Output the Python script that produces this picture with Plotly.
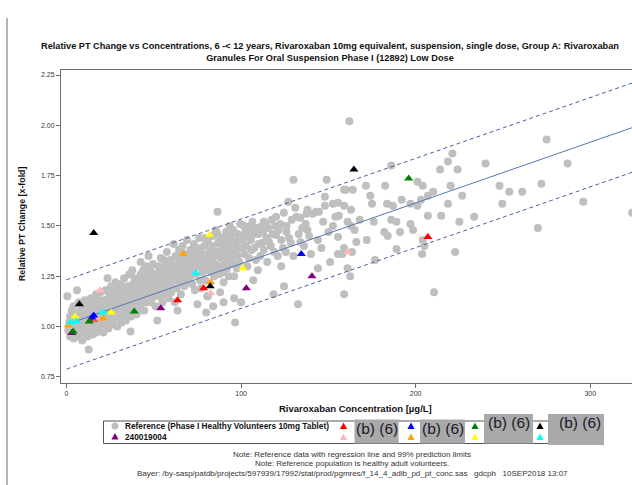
import plotly.graph_objects as go

# ---------------- data ----------------
# Reference population (Phase I healthy volunteers, 10 mg tablet): (concentration µg/L, relative PT change)
reference_points = [
    (0.5,1.15),(1,0.98),(1.5,1.02),(2,1.05),(2,0.95),(2.5,1.00),(3,1.08),(3,0.97),(3.5,1.03),(4,1.10),
    (4,0.94),(4.5,1.01),(5,1.06),(5,0.99),(5.5,0.96),(6,1.18),(6,1.04),(6.5,1.00),(7,1.12),(7,0.95),
    (7.5,1.07),(8,1.02),(8,0.98),(8.5,1.10),(9,1.05),(9,0.93),(9.5,1.01),(10,1.08),(10,0.97),
    (10.5,1.13),(11,1.03),(11,0.99),(11.5,1.06),(12,1.11),(12,0.95),(12.7,0.885),(13,1.02),(13,1.08),
    (13.5,0.98),(14,1.05),(14,1.14),(14.5,1.01),(15,1.09),(15,0.96),(15.5,1.04),(16,1.12),(16,1.00),
    (16.5,1.07),(17,0.97),(17,1.16),(17.5,1.03),(18,1.10),(18,1.05),(18.5,0.99),(19,1.13),(19,1.07),
    (19.5,1.17),(20,1.02),(20,1.10),
    (21,0.97),(21,1.06),(21.5,1.13),(22,1.08),(22,1.01),(22.5,1.18),(23,1.04),(23,1.11),(23.5,1.24),
    (24,1.07),(24,0.99),(24.5,1.15),(25,1.10),(25,1.03),(25.5,1.20),(26,1.06),(26,1.13),(26.5,1.01),
    (27,1.17),(27,1.09),(27.5,1.04),(28,1.22),(28,1.12),(28.5,1.07),(29,1.15),(29,1.00),(29.5,1.10),
    (30,1.19),(30,1.05),
    (30.5,1.13),(31,1.08),(31,1.21),(31.5,1.02),(32,1.16),(32,1.11),(32.5,1.06),(33,1.24),(33,1.14),
    (33.5,1.09),(34,1.18),(34,1.03),(34.5,1.12),(35,1.20),(35,1.07),(35.5,1.15),(36,1.26),(36,1.10),
    (36.7,0.975),(37,1.17),(37,1.05),(37.7,1.28),(38,1.13),(38,1.21),(38.5,1.08),(39,1.16),(39,1.24),
    (39.5,1.11),(40,1.19),(40,1.06),
    (40.6,1.07),(41,1.14),(41,1.23),(41.5,1.18),(42,1.10),(42.5,1.32),(42.5,1.26),(43,1.16),(43,1.21),
    (43.5,1.12),(44,1.28),(44,1.19),(44.5,1.08),(45,1.24),(45,1.15),(45.5,1.30),(46,1.20),(46,1.12),
    (46.5,1.26),(47,1.35),(47,1.17),(47.5,1.22),(48,1.12),(48,1.28),(48.5,1.19),(49,1.24),(49,1.14),
    (49.5,1.31),(50,1.21),(50,1.17),
    (51,1.26),(51,1.10),(51.5,1.19),(52,1.03),(52,1.23),(52.5,1.30),(53,1.15),(53,1.27),(53.5,1.21),
    (54,1.17),(54,1.34),(54.5,1.24),(55,1.12),(55,1.29),(55.7,1.33),(56,1.20),(56,1.26),(56.5,1.16),
    (57,1.31),(57,1.23),(57.5,1.37),(58,1.27),(58,1.19),(58.5,1.14),(59,1.29),(59,1.24),(59.5,1.33),
    (60,1.21),(60,1.17),
    (61,1.26),(61.4,1.41),(61.5,1.30),(62,1.23),(62,1.12),(62.5,1.35),(63,1.28),(63,1.19),(63.6,1.08),
    (64,1.32),(64,1.25),(64.5,1.38),(65,1.22),(65,1.29),(65.5,1.16),(66,1.34),(66,1.27),(66.5,1.40),
    (67,1.24),(67,1.31),(67.5,1.20),(68,1.36),(68,1.29),(68.5,1.26),(69,1.33),(69,1.43),(69.5,1.22),
    (70,1.33),(70,1.29),
    (71,1.38),(71,1.25),(71.5,1.31),(72,1.35),(72,1.21),(72.5,1.28),(73,1.41),(73,1.33),(73.5,1.18),
    (74,1.37),(74,1.26),(75,1.38),(75,1.11),(75.5,1.30),(76,1.34),(76,1.44),(76.5,1.23),(77,1.19),
    (77,1.39),(77.5,1.31),(78,1.36),(78,1.27),(78.8,1.44),(78.8,1.32),(78.8,1.28),(79,1.40),(79.5,1.23),
    (80,1.07),(80,1.34),
    (80.6,1.15),(81,1.15),(81,1.42),(81.5,1.30),(82,1.37),(82.6,1.38),(82.6,1.27),(83,1.33),(83.5,1.45),
    (84,1.10),(84,1.40),(84.5,1.25),(85,1.35),(85,1.31),(85.5,1.48),(86,1.29),(86.5,1.46),(86.5,1.57),
    (87,1.37),(87,1.42),(87.5,1.26),(88,1.41),(88,1.30),(88,1.17),(88.5,1.34),(89,1.44),(89,1.38),
    (89.5,1.27),(90,1.22),(90,1.12),(90,1.36),
    (91,1.41),(91,1.32),(91.5,1.47),(92,1.35),(92,1.29),(92.5,1.43),(93,1.38),(93,1.25),(93.5,1.50),
    (94,1.38),(94,1.44),(94,1.46),(94.5,1.33),(95,1.40),(95,1.31),(95.5,1.48),(96,1.25),(96,1.14),
    (96.6,1.02),(96,1.36),(97,1.42),(97.5,1.29),(98,1.46),(98,1.35),(98.5,1.39),(99,1.44),(99,1.32),
    (99.5,1.51),(100,1.39),(100,1.12),
    (101,1.505),(101,1.43),(101.7,1.455),(102,1.36),(102.5,1.48),(103,1.40),(103.6,1.30),(104,1.45),
    (104.5,1.34),(105,1.50),(105.6,1.43),(105.6,1.47),(106,1.38),(106.5,1.52),(107,1.23),(107.6,1.39),
    (108,1.46),(108.5,1.33),(109,1.49),(109.6,1.28),(110,1.46),(110,1.41),
    (111,1.35),(111,1.495),(112,1.415),(112.5,1.47),(113,1.52),(113,1.38),(114,1.51),(114.5,1.44),
    (115,1.32),(115.5,1.49),(116,1.42),(117,1.40),(117.5,1.53),(118,1.46),(118.6,1.16),(119,1.37),
    (119.5,1.50),(120,1.455),(120,1.545),
    (121,1.35),(121.5,1.48),(122.5,1.51),(123,1.30),(123,1.43),(124,1.39),(124.5,1.565),(124.6,1.20),
    (125.6,1.37),(126,1.47),(126,1.50),(127,1.62),(127.5,1.44),(128.5,1.415),(129,1.53),(130,1.35),
    (130,1.73),
    (131,1.59),(131.6,1.545),(132.6,1.11),(133,1.46),(134,1.42),(134,1.54),(135,1.49),(136,1.40),
    (137,1.51),(137.5,1.56),(138,1.48),(138,1.58),(139,1.45),(140,1.36),
    (141,1.56),(143,1.57),(144,1.29),(144,1.43),(144.6,1.57),(146,1.39),(147,1.52),(148,1.60),
    (148,1.645),(149,1.73),(150,1.47),(151,1.32),(152.6,1.61),(152.6,1.50),(154,1.545),(155.5,1.445),
    (155.5,1.36),(155.5,1.615),(156,1.55),(158,1.36),(159,1.39),(159,1.60),(159,1.68),(159,1.16),
    (160,1.68),(161,1.52),(161,1.29),(162,2.02),(162.5,1.25),(163,1.50),(163,1.58),(163.5,1.37),
    (164,1.68),(165,1.48),(166,1.42),(168,1.53),(171.5,1.70),(172,1.43),(174,1.65),(175,1.61),
    (176,1.52),(176.7,1.33),(182,1.47),(182.5,1.70),(183.6,1.61),(184,1.45),(186,1.80),(186,1.53),
    (187,1.60),(189,1.52),(189,1.385),(191,1.47),(192,1.63),(197,1.61),(197,1.51),(198.5,1.48),
    (201,1.72),(201,1.60),(203,1.63),(203.7,1.36),(204,1.70),(204,1.43),(205,1.40),(207,1.65),
    (207,1.55),(210,1.67),(210.5,1.17),(214,1.78),(214.6,1.55),(218.5,1.82),(218.5,1.61),(220,1.70),
    (221,1.86),(222.6,1.37),(224,1.78),(225,1.52),(226.6,1.65),(233.5,1.545),(240,1.81),(248,1.70),
    (249.6,1.61),
    (253.6,1.67),(261,1.67),(270,1.49),(272,1.71),(275,1.93),(287,1.81),(296,1.62),(324,1.565),
]
ref_conc = [p[0] for p in reference_points]
ref_pt = [p[1] for p in reference_points]

# Study subjects (Group A, low dose)
subject_names = ["240019004", "(b) (6) red", "(b) (6) pink", "(b) (6) blue", "(b) (6) orange",
                 "(b) (6) green", "(b) (6) yellow", "(b) (6) black", "(b) (6) cyan"]
subject_colors = ["#800080", "#ff0000", "#ffb6c1", "#0000ff", "#ffa500",
                  "#008000", "#ffff00", "#000000", "#00ffff"]
subject_conc = [
    [3.0, 54.0, 103.0, 140.6],
    [15.6, 63.6, 78.5, 207.0],
    [17.6, 19.2, 82.6, 161.0],
    [14.6, 15.6, 134.5],
    [1.0, 21.0, 66.8, 82.6],
    [3.8, 13.0, 38.8, 196.0],
    [4.9, 25.6, 82.0, 101.0],
    [7.4, 15.6, 82.3, 164.6],
    [2.3, 5.7, 20.8, 74.0],
]
subject_pt = [
    [0.967, 1.09, 1.19, 1.25],
    [1.035, 1.13, 1.19, 1.445],
    [1.04, 1.18, 1.165, 1.37],
    [1.045, 1.055, 1.36],
    [1.005, 1.04, 1.36, 1.22],
    [0.975, 1.025, 1.075, 1.735],
    [1.05, 1.07, 1.455, 1.29],
    [1.11, 1.465, 1.20, 1.78],
    [1.02, 1.025, 1.07, 1.265],
]

# Regression of reference data with 99% prediction limits
reg_intercept = 1.010
reg_slope = 0.00302
pred_halfwidth = 0.222
line_conc = [0, 340]

x_ticks = [0, 100, 200, 300]
y_ticks = [0.75, 1.00, 1.25, 1.50, 1.75, 2.00, 2.25]

title_text = ("<b>Relative PT Change vs Concentrations, 6 -&lt; 12 years, Rivaroxaban 10mg equivalent, "
              "suspension, single dose, Group A: Rivaroxaban<br>Granules For Oral Suspension Phase I (12892) Low Dose</b>")
x_title = "<b>Rivaroxaban Concentration [µg/L]</b>"
y_title = "<b>Relative PT Change [x-fold]</b>"
footnotes = [
    "Note: Reference data with regression line and 99% prediction limits",
    "Note: Reference population is healthy adult volunteers.",
    "Bayer: /by-sasp/patdb/projects/597939/17992/stat/prod/pgmres/f_14_4_adlb_pd_pt_conc.sas   gdcph   10SEP2018 13:07",
]
legend_ref_label = "<b>Reference (Phase I Healthy Volunteers 10mg Tablet)</b>"
legend_subject_label = "<b>240019004</b>"
redaction_text = "(b) (6)"

# ---------------- layout helpers ----------------
W, H = 632, 485
ML, MR, MT, MB = 61, 0, 70, 102
PW, PH = W - ML - MR, H - MT - MB
FONT = "Liberation Sans, Arial, sans-serif"


def px(xp):
    return (xp - ML) / PW


def py(yp):
    return (H - MB - yp) / PH


fig = go.Figure()

fig.add_trace(go.Scatter(
    x=ref_conc, y=ref_pt, mode="markers",
    marker=dict(symbol="circle", size=8, color="#bfbfbf", line=dict(width=0)),
    showlegend=False, cliponaxis=True))

mid = [reg_intercept + reg_slope * c for c in line_conc]
upper = [m + pred_halfwidth for m in mid]
lower = [m - pred_halfwidth for m in mid]
fig.add_trace(go.Scatter(x=line_conc, y=mid, mode="lines",
                         line=dict(color="#5577b0", width=1), showlegend=False))
for yy in (upper, lower):
    fig.add_trace(go.Scatter(x=line_conc, y=yy, mode="lines",
                             line=dict(color="#4a62a0", width=1, dash="4px,3px"), showlegend=False))

for name, col, xs, ys in zip(subject_names, subject_colors, subject_conc, subject_pt):
    fig.add_trace(go.Scatter(x=xs, y=ys, mode="markers", name=name,
                             marker=dict(symbol="triangle-up", size=8, color=col, line=dict(width=0)),
                             showlegend=False))

ann = []
shapes = []

# title
ann.append(dict(x=px(330), y=py(52), xref="paper", yref="paper", text=title_text, showarrow=False,
                xanchor="center", yanchor="middle", font=dict(family=FONT, size=9.2, color="#111")))
# axis titles
ann.append(dict(x=px(355), y=py(408), xref="paper", yref="paper", text=x_title, showarrow=False,
                xanchor="center", yanchor="middle", font=dict(family=FONT, size=9.5, color="#111")))
ann.append(dict(x=px(22), y=py(224), xref="paper", yref="paper", text=y_title, showarrow=False,
                textangle=-90, xanchor="center", yanchor="middle", font=dict(family=FONT, size=8.8, color="#111")))
# footnotes
for i, t in enumerate(footnotes):
    ann.append(dict(x=px(352), y=py(454 + 9.8 * i), xref="paper", yref="paper", text=t, showarrow=False,
                    xanchor="center", yanchor="middle", font=dict(family=FONT, size=8, color="#333")))

# page border line (screenshot frame)
shapes.append(dict(type="line", xref="paper", yref="paper", x0=px(7), x1=px(7), y0=py(18), y1=py(485),
                   line=dict(color="#b5b5b5", width=2)))

# legend box
shapes.append(dict(type="rect", xref="paper", yref="paper", x0=px(103.5), x1=px(560), y0=py(421), y1=py(443.5),
                   line=dict(color="#555", width=1), fillcolor="white"))


def tri(cx, cy, col, s=3.6):
    path = "M {a},{b} L {c},{d} L {e},{f} Z".format(
        a=px(cx - s), b=py(cy + s * 0.85), c=px(cx + s), d=py(cy + s * 0.85), e=px(cx), f=py(cy - s * 0.95))
    return dict(type="path", xref="paper", yref="paper", path=path, fillcolor=col, line=dict(width=0))


shapes.append(dict(type="circle", xref="paper", yref="paper", x0=px(111.5), x1=px(118.5), y0=py(422.5), y1=py(429.5),
                   fillcolor="#bfbfbf", line=dict(width=0)))
shapes.append(tri(115, 436.5, subject_colors[0]))
legend_cols = [343.5, 411, 475, 540]
for k, cxp in enumerate(legend_cols):
    shapes.append(tri(cxp, 426, subject_colors[1 + 2 * k]))
    shapes.append(tri(cxp, 437, subject_colors[2 + 2 * k]))

ann.append(dict(x=px(123), y=py(426), xref="paper", yref="paper", text=legend_ref_label, showarrow=False,
                xanchor="left", yanchor="middle", font=dict(family=FONT, size=8.3, color="#111")))
ann.append(dict(x=px(123), y=py(436.5), xref="paper", yref="paper", text=legend_subject_label, showarrow=False,
                xanchor="left", yanchor="middle", font=dict(family=FONT, size=8.3, color="#111")))

# redaction boxes
red_boxes = [(354.5, 398.5, 419.5, 443.5, 428), (420, 465, 419.5, 443.5, 428),
             (484, 533, 414, 443.5, 422.5), (548, 604, 414, 445, 422.5)]
for (x0, x1, y0, y1, ty) in red_boxes:
    shapes.append(dict(type="rect", xref="paper", yref="paper", x0=px(x0), x1=px(x1), y0=py(y0), y1=py(y1),
                       fillcolor="#a9a9a9", line=dict(width=0)))
    ann.append(dict(x=px((x0 + x1) / 2 + (4 if x1 - x0 > 50 else 0)), y=py(ty), xref="paper", yref="paper",
                    text=redaction_text, showarrow=False, xanchor="center", yanchor="middle",
                    font=dict(family="Liberation Sans, Arial, sans-serif", size=15.5, color="#1a1a2a")))

fig.update_layout(
    width=W, height=H,
    margin=dict(l=ML, r=MR, t=MT, b=MB, pad=0),
    paper_bgcolor="white", plot_bgcolor="white",
    showlegend=False,
    annotations=ann, shapes=shapes,
    xaxis=dict(range=[-3.15, 323.9], tickvals=x_ticks, ticktext=[str(v) for v in x_ticks],
               showgrid=False, zeroline=False, showline=True, mirror=True, linecolor="#6e6e6e", linewidth=1,
               ticks="outside", ticklen=4, tickcolor="#6e6e6e",
               tickfont=dict(family=FONT, size=7, color="#333")),
    yaxis=dict(range=[0.719, 2.275], tickvals=y_ticks, ticktext=["%.2f" % v for v in y_ticks],
               showgrid=False, zeroline=False, showline=True, mirror=False, linecolor="#6e6e6e", linewidth=1,
               ticks="outside", ticklen=4, tickcolor="#6e6e6e",
               tickfont=dict(family=FONT, size=7, color="#333")),
)

fig.write_html("out.html")
